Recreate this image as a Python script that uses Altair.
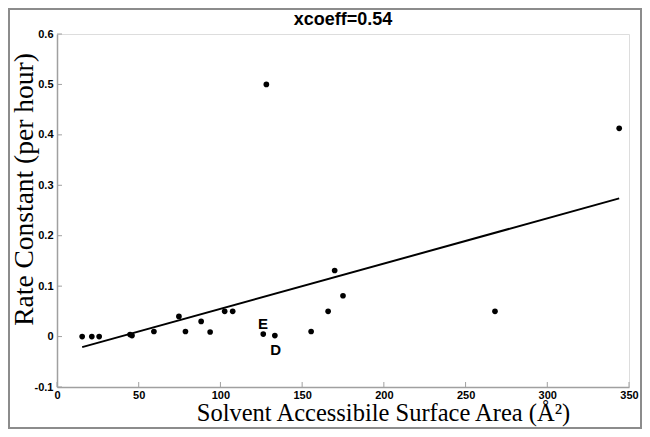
import altair as alt
import pandas as pd

# ---- data ----
sasa = [15.4, 21.3, 25.8, 44.7, 45.9, 59.3, 74.6, 78.6, 88.2, 93.7, 102.6, 107.5,
        126.2, 128.1, 133.3, 155.5, 165.9, 169.9, 175.0, 268.0, 344.0]
rate = [0.0, 0.0, 0.0, 0.004, 0.002, 0.01, 0.04, 0.01, 0.03, 0.009, 0.05, 0.05,
        0.005, 0.5, 0.002, 0.01, 0.05, 0.131, 0.081, 0.05, 0.413]

fit_x = [15.4, 344.0]
fit_y = [-0.021, 0.274]

label_text = ["E", "D"]
label_x = [126.1, 133.8]
label_y = [0.0246, -0.0257]

x_ticks = [0, 50, 100, 150, 200, 250, 300, 350]
y_ticks = [-0.1, 0, 0.1, 0.2, 0.3, 0.4, 0.5, 0.6]

title_text = ["xcoeff=0.54"]
x_title = "Solvent Accessibile Surface Area (Å²)"
y_title = "Rate Constant (per hour)"

# ---- layout ----
W, H = 572, 353
AXIS_GRAY = "#a0a0a0"

xs = alt.Scale(domain=[0, 350], nice=False, zero=False)
ys = alt.Scale(domain=[-0.1, 0.6], nice=False, zero=False)

x_axis = alt.Axis(
    values=x_ticks, title=x_title, grid=False, ticks=False, tickSize=0,
    domainColor=AXIS_GRAY, domainWidth=1.5,
    labelFont="Liberation Sans", labelFontWeight="bold", labelFontSize=11,
    labelColor="black", labelPadding=2, labelFlush=False, labelOverlap=False,
    labelExpr="datum.value + ''",
    titleFont="Liberation Serif", titleFontSize=24.5, titleFontWeight="normal",
    titleColor="black", titleX=326, titleY=33.5, titleAlign="center",
    titleBaseline="alphabetic",
)
y_axis = alt.Axis(
    values=y_ticks, title=y_title, grid=False, ticks=False, tickSize=0,
    domainColor=AXIS_GRAY, domainWidth=1.5,
    labelFont="Liberation Sans", labelFontWeight="bold", labelFontSize=11,
    labelColor="black", labelPadding=4, labelFlush=False, labelOverlap=False,
    labelExpr="datum.value + ''",
    titleFont="Liberation Serif", titleFontSize=27.5, titleFontWeight="normal",
    titleColor="black", titleAngle=270, titleX=-25, titleY=155,
    titleAlign="center", titleBaseline="alphabetic",
)

def X(field="x"):
    return alt.X(f"{field}:Q", scale=xs, axis=x_axis)

def Y(field="y"):
    return alt.Y(f"{field}:Q", scale=ys, axis=y_axis)

pts = pd.DataFrame({"x": sasa, "y": rate})
fit = pd.DataFrame({"x": fit_x, "y": fit_y})
labs = pd.DataFrame({"x": label_x, "y": label_y, "t": label_text})
xt = pd.DataFrame({"x": x_ticks})
yt = pd.DataFrame({"y": y_ticks})

points = alt.Chart(pts).mark_circle(size=32, color="black", opacity=1).encode(x=X(), y=Y())
line = alt.Chart(fit).mark_line(color="black", strokeWidth=2).encode(x=X(), y=Y())
texts = alt.Chart(labs).mark_text(
    font="Liberation Sans", fontWeight="bold", fontSize=15, color="black",
    align="center", baseline="middle",
).encode(x=X(), y=Y(), text="t:N")
xtick = alt.Chart(xt).mark_rule(color=AXIS_GRAY, strokeWidth=1).encode(
    x=X(), y=alt.value(H), y2=alt.value(H - 5))
ytick = alt.Chart(yt).mark_rule(color=AXIS_GRAY, strokeWidth=1).encode(
    y=Y(), x=alt.value(0), x2=alt.value(5))
frame = alt.Chart(pd.DataFrame({"a": [0]})).mark_rect(
    fillOpacity=0, stroke="#8c8c8c", strokeWidth=2).encode(
    x=alt.value(-48), x2=alt.value(584), y=alt.value(-25), y2=alt.value(394))
title = alt.Chart(pd.DataFrame({"t": title_text})).mark_text(
    font="Liberation Sans", fontWeight="bold", fontSize=18, color="black",
    align="center", baseline="alphabetic",
).encode(x=alt.value(W / 2), y=alt.value(-9), text="t:N")

chart = alt.layer(frame, xtick, ytick, line, points, texts, title).properties(
    width=W, height=H,
    autosize=alt.AutoSizeParams(type="none"),
    padding={"left": 49, "top": 26, "right": 13, "bottom": 42},
).configure_view(stroke=None).configure(background="white")

chart.save("out.html", embed_options={"renderer": "svg", "actions": False})
